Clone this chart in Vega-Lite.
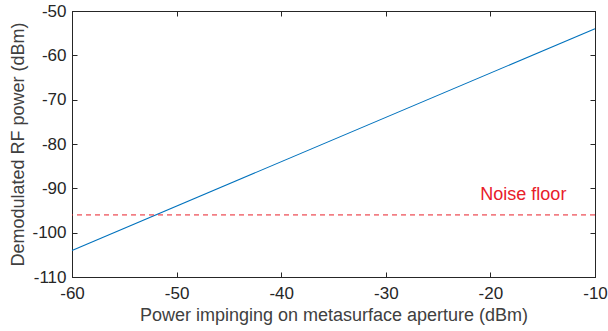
{
  "$schema": "https://vega.github.io/schema/vega-lite/v6.json",
  "width": 523,
  "height": 266,
  "autosize": {"type": "none"},
  "padding": {"left": 72, "top": 11, "right": 13, "bottom": 54},
  "config": {
    "font": "Liberation Sans",
    "view": {"stroke": "#262626", "strokeWidth": 1},
    "axis": {
      "grid": false,
      "domainColor": "#262626",
      "tickColor": "#262626",
      "tickSize": -5,
      "labelFontSize": 17,
      "labelColor": "#262626",
      "labelExpr": "toString(datum.value)",
      "titleFontSize": 18,
      "titleFontWeight": "normal",
      "titleColor": "#404040",
      "labelFlush": false
    }
  },
  "datasets": {
    "response": [
      {"incident": -60, "demod": -104},
      {"incident": -10, "demod": -54}
    ],
    "floor": [
      {"level": -96, "label": "Noise floor", "labelX": -16.85, "labelY": -92.6}
    ]
  },
  "resolve": {"axis": {"x": "independent", "y": "independent"}},
  "layer": [
    {
      "data": {"name": "response"},
      "mark": {"type": "line", "color": "#0072BD", "strokeWidth": 1.1},
      "encoding": {
        "x": {
          "field": "incident", "type": "quantitative",
          "scale": {"domain": [-60, -10], "nice": false},
          "axis": {"orient": "bottom", "values": [-60, -50, -40, -30, -20, -10], "title": "Power impinging on metasurface aperture (dBm)", "labelPadding": 13, "titlePadding": 5}
        },
        "y": {
          "field": "demod", "type": "quantitative",
          "scale": {"domain": [-110, -50], "nice": false, "zero": false},
          "axis": {"orient": "left", "values": [-110, -100, -90, -80, -70, -60, -50], "title": "Demodulated RF power (dBm)", "labelPadding": 11, "titlePadding": 4}
        }
      }
    },
    {
      "data": {"name": "floor"},
      "mark": {"type": "rule", "color": "#e8202a", "strokeWidth": 1, "strokeDash": [5, 4]},
      "encoding": {
        "y": {
          "field": "level", "type": "quantitative",
          "scale": {"domain": [-110, -50], "nice": false, "zero": false},
          "axis": {"orient": "right", "values": [-110, -100, -90, -80, -70, -60, -50], "labels": false, "title": null}
        }
      }
    },
    {
      "data": {"name": "floor"},
      "mark": {"type": "text", "color": "#e8202a", "fontSize": 18, "align": "center", "baseline": "alphabetic"},
      "encoding": {
        "x": {
          "field": "labelX", "type": "quantitative",
          "scale": {"domain": [-60, -10], "nice": false},
          "axis": {"orient": "top", "values": [-60, -50, -40, -30, -20, -10], "labels": false, "title": null}
        },
        "y": {"field": "labelY", "type": "quantitative", "axis": null},
        "text": {"field": "label"}
      }
    }
  ]
}
